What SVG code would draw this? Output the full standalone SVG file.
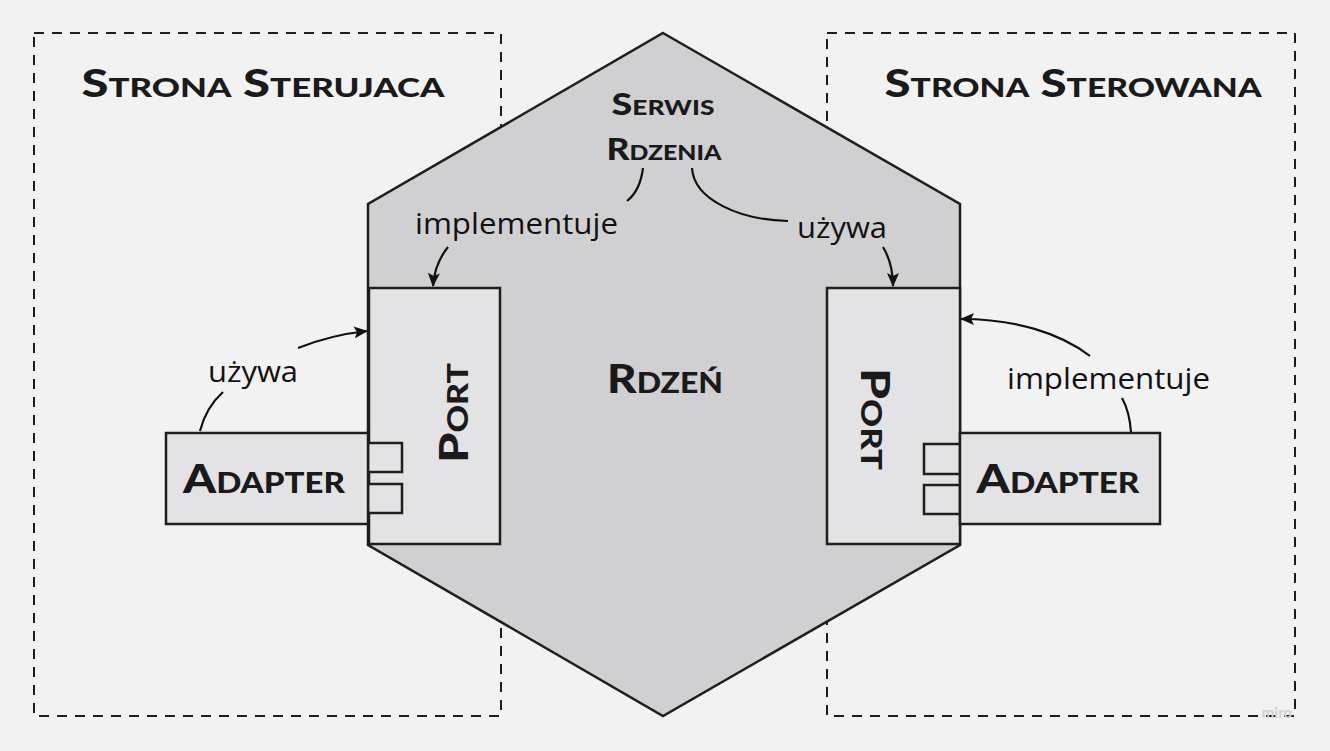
<svg xmlns="http://www.w3.org/2000/svg" width="1330" height="751" viewBox="0 0 1330 751">
<style>
.zone{fill:none;stroke:#1e1e1e;stroke-width:2;stroke-dasharray:10 8}
.box{stroke:#1e1e1e;stroke-width:2.5}
.hand{font-family:Lato,"DejaVu Sans",sans-serif;font-weight:900;font-variant:small-caps;fill:#1a1a1a;text-anchor:middle}
.lbl{font-family:"Open Sans","Noto Sans",sans-serif;font-size:29px;fill:#111}
.conn{fill:none;stroke:#111;stroke-width:2.2}
</style>
<defs>
<marker id="ah" viewBox="0 0 14 12" refX="13" refY="6" markerWidth="14" markerHeight="12" markerUnits="userSpaceOnUse" orient="auto">
<path d="M0,0 L14,6 L0,12 L3,6 Z" fill="#111"/>
</marker>
</defs>
<rect width="1330" height="751" fill="#f2f2f2"/>
<g id="strona-sterujaca">
<rect class="zone" x="34" y="33" width="467" height="683"/>
<text class="hand" x="263" y="97" font-size="38" textLength="363" lengthAdjust="spacingAndGlyphs">Strona Sterujaca</text>
</g>
<g id="strona-sterowana">
<rect class="zone" x="827" y="33" width="468" height="683"/>
<text class="hand" x="1073" y="97" font-size="38" textLength="377" lengthAdjust="spacingAndGlyphs">Strona Sterowana</text>
</g>
<g id="rdzen">
<polygon class="box" points="663,33 960,204 960,545 663,716 368,545 368,204" fill="#d0d0d2"/>
<text class="hand" x="663" y="115" font-size="30" textLength="103" lengthAdjust="spacingAndGlyphs">Serwis</text>
<text class="hand" x="664" y="160" font-size="30" textLength="115" lengthAdjust="spacingAndGlyphs">Rdzenia</text>
<text class="hand" x="665" y="393" font-size="40" textLength="116" lengthAdjust="spacingAndGlyphs">Rdzeń</text>
</g>
<g id="port-lewy">
<rect class="box" x="369" y="288" width="131" height="256" fill="#e3e3e5"/>
<text class="hand" transform="translate(468,413) rotate(-90)" x="0" y="0" font-size="40" textLength="100" lengthAdjust="spacingAndGlyphs">Port</text>
</g>
<g id="adapter-lewy">
<rect class="box" x="368" y="443" width="34" height="29" fill="#e3e3e5"/>
<rect class="box" x="368" y="484" width="34" height="29" fill="#e3e3e5"/>
<rect class="box" x="166" y="433" width="202" height="91" fill="#e3e3e5"/>
<text class="hand" x="264" y="493" font-size="40" textLength="162" lengthAdjust="spacingAndGlyphs">Adapter</text>
</g>
<g id="port-prawy">
<rect class="box" x="827" y="288" width="133" height="256" fill="#e3e3e5"/>
<text class="hand" transform="translate(861,419) rotate(90)" x="0" y="0" font-size="40" textLength="102" lengthAdjust="spacingAndGlyphs">Port</text>
</g>
<g id="adapter-prawy">
<rect class="box" x="924" y="444" width="36" height="30" fill="#e3e3e5"/>
<rect class="box" x="924" y="485" width="36" height="29" fill="#e3e3e5"/>
<rect class="box" x="960" y="433" width="200" height="91" fill="#e3e3e5"/>
<text class="hand" x="1058" y="493" font-size="40" textLength="163" lengthAdjust="spacingAndGlyphs">Adapter</text>
</g>
<g id="connectors">
<path class="conn" d="M643,168 C641,184 636,194 627,201"/>
<path class="conn" d="M448,247 C440,257 434,270 433,286" marker-end="url(#ah)"/>
<path class="conn" d="M692,168 C694,200 740,220 788,221"/>
<path class="conn" d="M883,247 C889,257 893,270 893,286" marker-end="url(#ah)"/>
<path class="conn" d="M200,431 C204,415 212,402 223,392"/>
<path class="conn" d="M298,348 C318,340 340,334 367,331" marker-end="url(#ah)"/>
<path class="conn" d="M1131,432 C1130,418 1127,407 1122,398"/>
<path class="conn" d="M1090,356 C1060,333 1015,319 961,319" marker-end="url(#ah)"/>
<text class="lbl" x="415" y="234" textLength="203" lengthAdjust="spacingAndGlyphs">implementuje</text>
<text class="lbl" x="797" y="238" textLength="90" lengthAdjust="spacingAndGlyphs">używa</text>
<text class="lbl" x="208" y="382" textLength="90" lengthAdjust="spacingAndGlyphs">używa</text>
<text class="lbl" x="1007" y="389" textLength="203" lengthAdjust="spacingAndGlyphs">implementuje</text>
</g>
<text x="1277" y="718" font-family="Lato,sans-serif" font-size="15" font-weight="700" fill="#cfcfcf" text-anchor="middle">miro</text>
</svg>
